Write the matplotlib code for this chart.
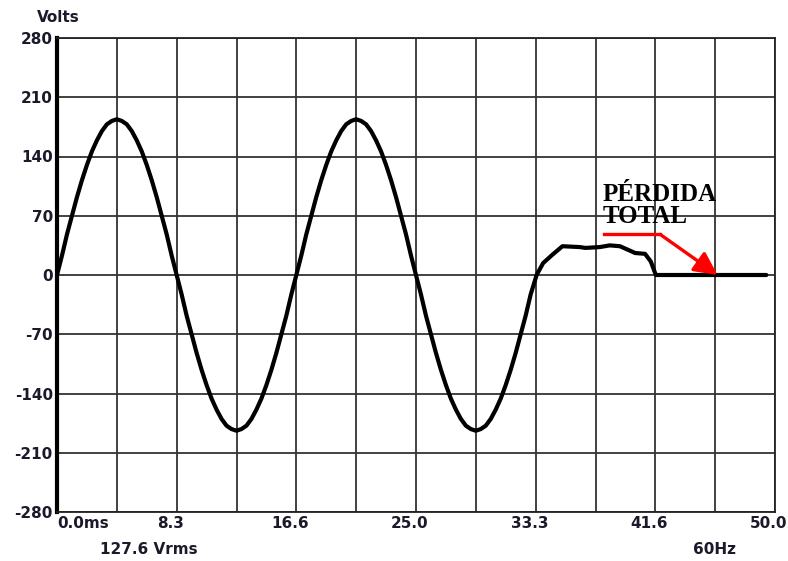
import numpy as np
import matplotlib
matplotlib.use('Agg')
import matplotlib.pyplot as plt
from matplotlib.transforms import ScaledTranslation

# 波形读数: 前两个周期按 0.3472 ms 间隔读取 (V)
dt_ms = 0.3472
volts_sine = [
    0, 23, 48, 70, 92, 112, 130, 146, 159, 170, 178, 182,
    184, 182, 178, 170, 159, 146, 130, 112, 92, 70, 48, 23,
    0, -23, -48, -70, -92, -112, -130, -146, -159, -170, -178, -182,
    -184, -182, -178, -170, -159, -146, -130, -112, -92, -70, -48, -23,
    0, 23, 48, 70, 92, 112, 130, 146, 159, 170, 178, 182,
    184, 182, 178, 170, 159, 146, 130, 112, 92, 70, 48, 23,
    0, -23, -48, -70, -92, -112, -130, -146, -159, -170, -178, -182,
    -184, -182, -178, -170, -159, -146, -130, -112, -92, -70, -48, -23,
]
# 断电部分 (ms, V)
t_tail = [33.4, 33.85, 34.5, 35.2, 36.4, 36.8, 37.8, 38.5, 39.2, 40.0, 40.25,
          40.95, 41.35, 41.7, 49.4]
volts_tail = [0, 14, 24, 34, 33, 32, 33, 35, 34, 28, 26, 25, 16, 0, 0]

x_ticks = np.linspace(0, 50, 13)
x_labels = ['0.0ms', '', '8.3', '', '16.6', '', '25.0', '', '33.3', '', '41.6', '', '50.0']
y_ticks = [-280, -210, -140, -70, 0, 70, 140, 210, 280]

# 箭头 (ms, V)
arrow_line_x = [38.1, 42.0]
arrow_line_y = [48, 48]
arrow_tip = (46.0, 0)

t_ms = list(np.arange(len(volts_sine)) * dt_ms) + t_tail
volts = volts_sine + volts_tail

fig = plt.figure(figsize=(7.88, 5.61), dpi=100)
ax = fig.add_axes([57/788, 1 - 512/561, 718/788, 474/561])

ax.set_xlim(0, 50)
ax.set_ylim(-280, 280)
ax.set_xticks(x_ticks)
ax.set_xticklabels(x_labels)
ax.set_yticks(y_ticks)
ax.set_yticklabels([str(v) for v in y_ticks])
ax.tick_params(length=0, labelsize=11, pad=3, colors='#1a1a2a')
for lab in ax.get_xticklabels() + ax.get_yticklabels():
    lab.set_fontweight('bold')
ax.grid(True, color='#333333', linewidth=1.3)
ax.set_axisbelow(True)
for s in ax.spines.values():
    s.set_color('#222222')
    s.set_linewidth(1.3)
ax.spines['left'].set_linewidth(3)
ax.spines['left'].set_color('black')

# x 刻度标签往左挪一点, 第一个左对齐
labs = ax.get_xticklabels()
labs[0].set_ha('left')
for lab in labs[1:]:
    lab.set_transform(lab.get_transform() + ScaledTranslation(-6/100, 0, fig.dpi_scale_trans))

ax.plot(t_ms, volts, color='black', linewidth=3, solid_joinstyle='round',
        solid_capstyle='round', zorder=3)

# 红色箭头
ax.plot(arrow_line_x, arrow_line_y, color='red', linewidth=2.4, zorder=4)
ax.annotate('', xy=arrow_tip, xytext=(arrow_line_x[1], arrow_line_y[1]),
            arrowprops=dict(arrowstyle='-|>,head_length=1.4,head_width=0.7',
                            color='red', lw=2.4, shrinkA=0, shrinkB=0), zorder=4)

ax.text(38.0, 109, 'PÉRDIDA\nTOTAL', family='Liberation Serif', fontweight='bold',
        fontsize=18, ha='left', va='top', linespacing=0.95, color='black', zorder=5)

fig.text(37/788, 1 - 17/561, 'Volts', fontsize=11, fontweight='bold',
         ha='left', va='center', color='#1a1a2a')
fig.text(100/788, 1 - 549/561, '127.6 Vrms', fontsize=11, fontweight='bold',
         ha='left', va='center', color='#1a1a2a')
fig.text(693/788, 1 - 549/561, '60Hz', fontsize=11, fontweight='bold',
         ha='left', va='center', color='#1a1a2a')

fig.savefig('out.png', dpi=100)
